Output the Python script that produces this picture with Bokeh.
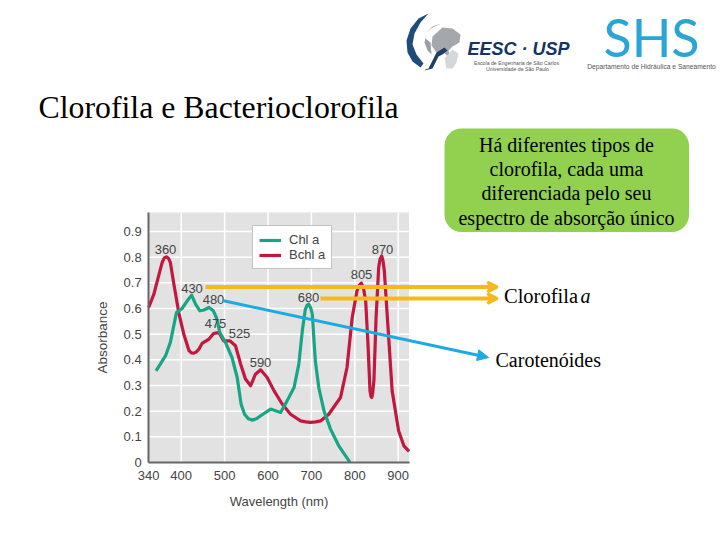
from bokeh.plotting import figure
from bokeh.core.properties import value
from bokeh.models import (Range1d, FixedTicker, Label, Arrow, VeeHead, NormalHead,
                          BoxAnnotation, Legend, LegendItem, ColumnDataSource, LinearAxis)
from bokeh.embed import file_html
from bokeh.resources import INLINE

# ---------- data ----------
chl_x = [342,364,375,389,402,414,424,433,443,452,464,474,481,489,502,517,529,538,546,555,564,573,583,606,629,644,660,671,679,686,690,694,698,702,709,717,729,744,763,789]
chl_y = [.357,.416,.468,.584,.600,.630,.652,.617,.591,.594,.604,.591,.565,.506,.468,.409,.331,.227,.188,.170,.165,.170,.182,.208,.195,.240,.292,.383,.513,.597,.612,.617,.604,.578,.396,.292,.201,.130,.065,0]
bchl_x = [325,337,349,356,361,366,371,375,383,395,406,418,424,429,435,441,448,464,475,487,498,512,525,537,548,560,571,583,598,614,633,652,675,687,698,710,721,740,767,782,794,805,810,815,820,825,830,835,837,839,841,844,849,855,858,862,865,868,876,886,901,913,925]
bchl_y = [.604,.656,.734,.779,.797,.801,.795,.779,.695,.578,.500,.435,.427,.426,.431,.442,.464,.481,.503,.506,.474,.474,.455,.383,.325,.299,.344,.361,.331,.279,.227,.188,.162,.158,.156,.158,.162,.188,.253,.370,.565,.669,.689,.699,.679,.630,.474,.279,.258,.253,.268,.318,.565,.760,.792,.805,.785,.747,.539,.279,.123,.065,.043]
x_ticks = [325,400,500,600,700,800,900]
x_tick_labels = ["340","400","500","600","700","800","900"]
y_ticks = [0,.1,.2,.3,.4,.5,.6,.7,.8,.9]
y_tick_labels = ["0","0.1","0.2","0.3","0.4","0.5","0.6","0.7","0.8","0.9"]
peak_labels = ["360","430","480","475","525","590","680","805","870"]
peak_x = [165,191.5,213,215,239,260,308,361,382]
peak_y = [249,287.5,299,322.5,333,362,297,274,249]
box_lines = ["Há diferentes tipos de","clorofila, cada uma","diferenciada pelo seu","espectro de absorção único"]
box_line_y = [144,168.5,192.5,217]

X_MIN, X_MAX = 325, 925
Y_MIN, Y_MAX = 0, 0.974
SANS = "Liberation Sans"
SERIF = "Liberation Serif"
W, H = 720, 540

# The frame fills the page; the data range is chosen so the panel falls where the reference has it.
p = figure(width=W, height=H, output_backend="svg", toolbar_location=None,
           x_range=Range1d(-16.4, 1642.6), y_range=Range1d(-0.304, 1.8),
           x_axis_type=None, y_axis_type=None,
           min_border=0, background_fill_color="white", border_fill_color="white", outline_line_color=None)
p.grid.visible = False
p.extra_x_ranges = {"px": Range1d(0, W)}
p.extra_y_ranges = {"px": Range1d(H, 0)}

p.add_layout(BoxAnnotation(left=X_MIN, right=X_MAX, bottom=Y_MIN, top=Y_MAX, fill_color="#e2e2e2",
                           fill_alpha=1, line_color=None, level="underlay"))
p.segment(x_ticks[1:], Y_MIN, x_ticks[1:], Y_MAX, line_color="white", line_width=1.5)
p.segment(X_MIN, y_ticks[1:], X_MAX, y_ticks[1:], line_color="white", line_width=1.5)

xaxis = LinearAxis(fixed_location=Y_MIN, bounds=(X_MIN, X_MAX), ticker=FixedTicker(ticks=x_ticks),
                   major_label_overrides=dict(zip(x_ticks, x_tick_labels)))
yaxis = LinearAxis(fixed_location=X_MIN, bounds=(Y_MIN, Y_MAX), ticker=FixedTicker(ticks=y_ticks),
                   major_label_overrides=dict(zip(y_ticks, y_tick_labels)))
for ax in (xaxis, yaxis):
    ax.axis_line_color = "#666666"
    ax.axis_line_width = 2
    ax.major_tick_line_color = None
    ax.minor_tick_line_color = None
    ax.major_label_text_font = SANS
    ax.major_label_text_font_size = "13px"
    ax.major_label_text_color = "#444444"
    ax.axis_label_text_font = SANS
    ax.axis_label_text_font_size = "13px"
    ax.axis_label_text_font_style = "normal"
    ax.axis_label_text_color = "#444444"
xaxis.axis_label = "Wavelength (nm)"
yaxis.axis_label = "Absorbance"
yaxis.axis_label_text_font_size = "13.5px"
xaxis.major_label_standoff = 3
yaxis.major_label_standoff = 1
xaxis.axis_label_standoff = 10
yaxis.axis_label_standoff = 10
p.add_layout(xaxis, "below")
p.add_layout(yaxis, "left")

red = p.line(bchl_x, bchl_y, line_color="#c2173f", line_width=3.2, line_join="round")
green = p.line(chl_x, chl_y, line_color="#17a585", line_width=3.2, line_join="round")

src = ColumnDataSource(dict(x=peak_x, y=peak_y, t=peak_labels))
p.text("x", "y", "t", source=src, x_range_name="px", y_range_name="px", text_font=value(SANS),
       text_font_size="13px", text_color="#444444", text_align="center", text_baseline="middle")

legend = Legend(items=[LegendItem(label="Chl a", renderers=[green]), LegendItem(label="Bchl a", renderers=[red])],
                location=(252, 540-269), orientation="vertical", glyph_width=22, glyph_height=14, spacing=0,
                label_text_font=SANS, label_text_font_size="13px", label_text_color="#444444",
                label_standoff=8, padding=6, margin=0, border_line_color="#888888", background_fill_alpha=1)
p.add_layout(legend)

def label(x, y, text, font=SERIF, size=18, color="black", align="left", style="normal"):
    p.add_layout(Label(x=x, y=y, text=text, x_range_name="px", y_range_name="px", text_font=font,
                       text_font_size=f"{size}px", text_color=color, text_align=align,
                       text_baseline="middle", text_font_style=style))

def poly(xs, ys, color):
    p.patch(xs, ys, x_range_name="px", y_range_name="px", fill_color=color, line_color=None)

label(38, 107, "Clorofila e Bacterioclorofila", size=31.8)

p.add_layout(BoxAnnotation(left=444, right=688.5, top=128, bottom=231.5, x_range_name="px", y_range_name="px",
                           fill_color="#92d050", fill_alpha=1, line_color=None, border_radius=17))
for t, yy in zip(box_lines, box_line_y):
    label(566, yy, t, size=20, align="center")

yellow = "#f5b91e"
blue = "#1caae2"
for x0, yy in ((205, 286.5), (320, 298)):
    p.add_layout(Arrow(x_start=x0, y_start=yy, x_end=497, y_end=yy, x_range_name="px", y_range_name="px",
                       line_color=yellow, line_width=4,
                       end=VeeHead(size=10, fill_color=yellow, line_color=yellow, line_width=3)))
p.add_layout(Arrow(x_start=222, y_start=300, x_end=488, y_end=357, x_range_name="px", y_range_name="px",
                   line_color=blue, line_width=3,
                   end=NormalHead(size=11, fill_color=blue, line_color=blue, line_width=1)))
label(503.5, 295, "Clorofila", size=20.5)
label(580, 295, "a", size=20, style="italic")
label(495, 359, "Carotenóides", size=20)

# logos
poly([428,418,410,406,407,412,420,423,416,412,414,420], [13,18,28,40,52,61,67,63,54,44,33,22], "#1d4d78")
poly([441,432,426,424,427,431,430,425,426,432], [23,26,32,42,50,54,42,38,32,27], "#9aa0a6")
poly([432,442,452,460,459,452,448,450,443,436,431], [36,27,28,34,42,46,50,58,52,52,45], "#a4a8ac")
poly([428,436,444,447,442,438,432,424,425], [68,52,47,50,54,56,68,70,69], "#1f3f66")
poly([444,452,458,456,452,446], [58,49,53,62,68,68], "#d5d7da")
label(467, 48.5, "EESC · USP", font=SANS, size=18, color="#15345f", style="bold italic")
label(516, 62, "Escola de Engenharia de São Carlos", font=SANS, size=5.2, color="#555555", align="center")
label(517, 68, "Universidade de São Paulo", font=SANS, size=5.2, color="#555555", align="center")
label(651, 36, "SHS", font="Lato", size=52, color="#2aa5d6", align="center")
label(651, 66, "Departamento de Hidráulica e Saneamento", font=SANS, size=6.7, color="#555555", align="center")

open("out.html", "w").write(file_html(p, INLINE))
